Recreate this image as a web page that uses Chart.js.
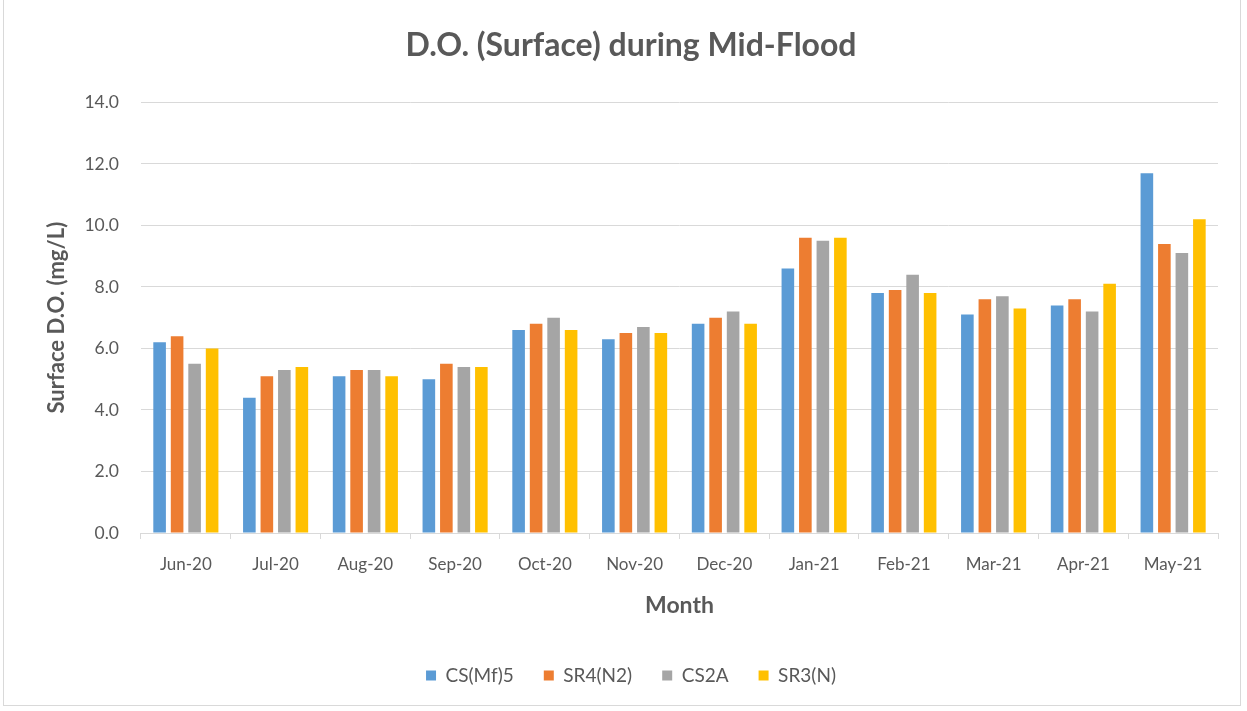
<!DOCTYPE html>
<html>
<head>
<meta charset="utf-8">
<script src="https://cdn.jsdelivr.net/npm/chart.js@4/dist/chart.umd.min.js"></script>
<style>
  html, body { margin: 0; padding: 0; background: #fff; }
  #wrap { position: absolute; left: 3px; top: 0; width: 1238px; height: 706px; border: 1px solid #D9D9D9; border-top: none; box-sizing: border-box; }
</style>
</head>
<body>
<div id="wrap"><canvas id="doChart"></canvas></div>
<script>
const months = ['Jun-20', 'Jul-20', 'Aug-20', 'Sep-20', 'Oct-20', 'Nov-20', 'Dec-20', 'Jan-21', 'Feb-21', 'Mar-21', 'Apr-21', 'May-21'];
const csMf5 = [6.2, 4.4, 5.1, 5.0, 6.6, 6.3, 6.8, 8.6, 7.8, 7.1, 7.4, 11.7];
const sr4N2 = [6.4, 5.1, 5.3, 5.5, 6.8, 6.5, 7.0, 9.6, 7.9, 7.6, 7.6, 9.4];
const cs2a = [5.5, 5.3, 5.3, 5.4, 7.0, 6.7, 7.2, 9.5, 8.4, 7.7, 7.2, 9.1];
const sr3N = [6.0, 5.4, 5.1, 5.4, 6.6, 6.5, 6.8, 9.6, 7.8, 7.3, 8.1, 10.2];

const textColor = '#595959';
const gridColor = '#D9D9D9';

function series(label, data, color) {
    return {
        label: label,
        data: data,
        backgroundColor: color,
        borderWidth: 0,
        categoryPercentage: 0.78,
        barPercentage: 0.72
    };
}

new Chart(document.getElementById('doChart'), {
    type: 'bar',
    data: {
        labels: months,
        datasets: [
            series('CS(Mf)5', csMf5, '#5B9BD5'),
            series('SR4(N2)', sr4N2, '#ED7D31'),
            series('CS2A', cs2a, '#A5A5A5'),
            series('SR3(N)', sr3N, '#FFC000')
        ]
    },
    options: {
        responsive: true,
        maintainAspectRatio: false,
        animation: false,
        layout: { padding: { left: 40, right: 22, top: 26, bottom: 10 } },
        plugins: {
            title: {
                display: true,
                text: 'D.O. (Surface) during Mid-Flood',
                color: textColor,
                font: { family: 'Lato', size: 32, weight: 'bold' },
                padding: { top: 0, bottom: 38 }
            },
            legend: {
                position: 'bottom',
                labels: {
                    color: textColor,
                    font: { family: 'Lato', size: 19 },
                    boxWidth: 10,
                    boxHeight: 10,
                    padding: 30
                }
            },
            tooltip: { enabled: true }
        },
        scales: {
            x: {
                grid: {
                    drawOnChartArea: false,
                    drawTicks: true,
                    tickLength: 6,
                    color: gridColor,
                    offset: true
                },
                border: { color: gridColor },
                ticks: {
                    color: textColor,
                    font: { family: 'Lato', size: 17 },
                    padding: 15
                },
                title: {
                    display: true,
                    text: 'Month',
                    color: textColor,
                    font: { family: 'Lato', size: 23, weight: 'bold' },
                    padding: { top: 2, bottom: 17 }
                }
            },
            y: {
                min: 0,
                max: 14,
                grid: { color: gridColor, drawTicks: false },
                border: { display: false },
                ticks: {
                    stepSize: 2,
                    color: textColor,
                    font: { family: 'Lato', size: 17.5 },
                    padding: 22,
                    callback: function (v) { return v.toFixed(1); }
                },
                title: {
                    display: true,
                    text: 'Surface D.O. (mg/L)',
                    color: textColor,
                    font: { family: 'Lato', size: 22, weight: 'bold' },
                    padding: { top: 0, bottom: -8 }
                }
            }
        }
    }
});
</script>
</body>
</html>
